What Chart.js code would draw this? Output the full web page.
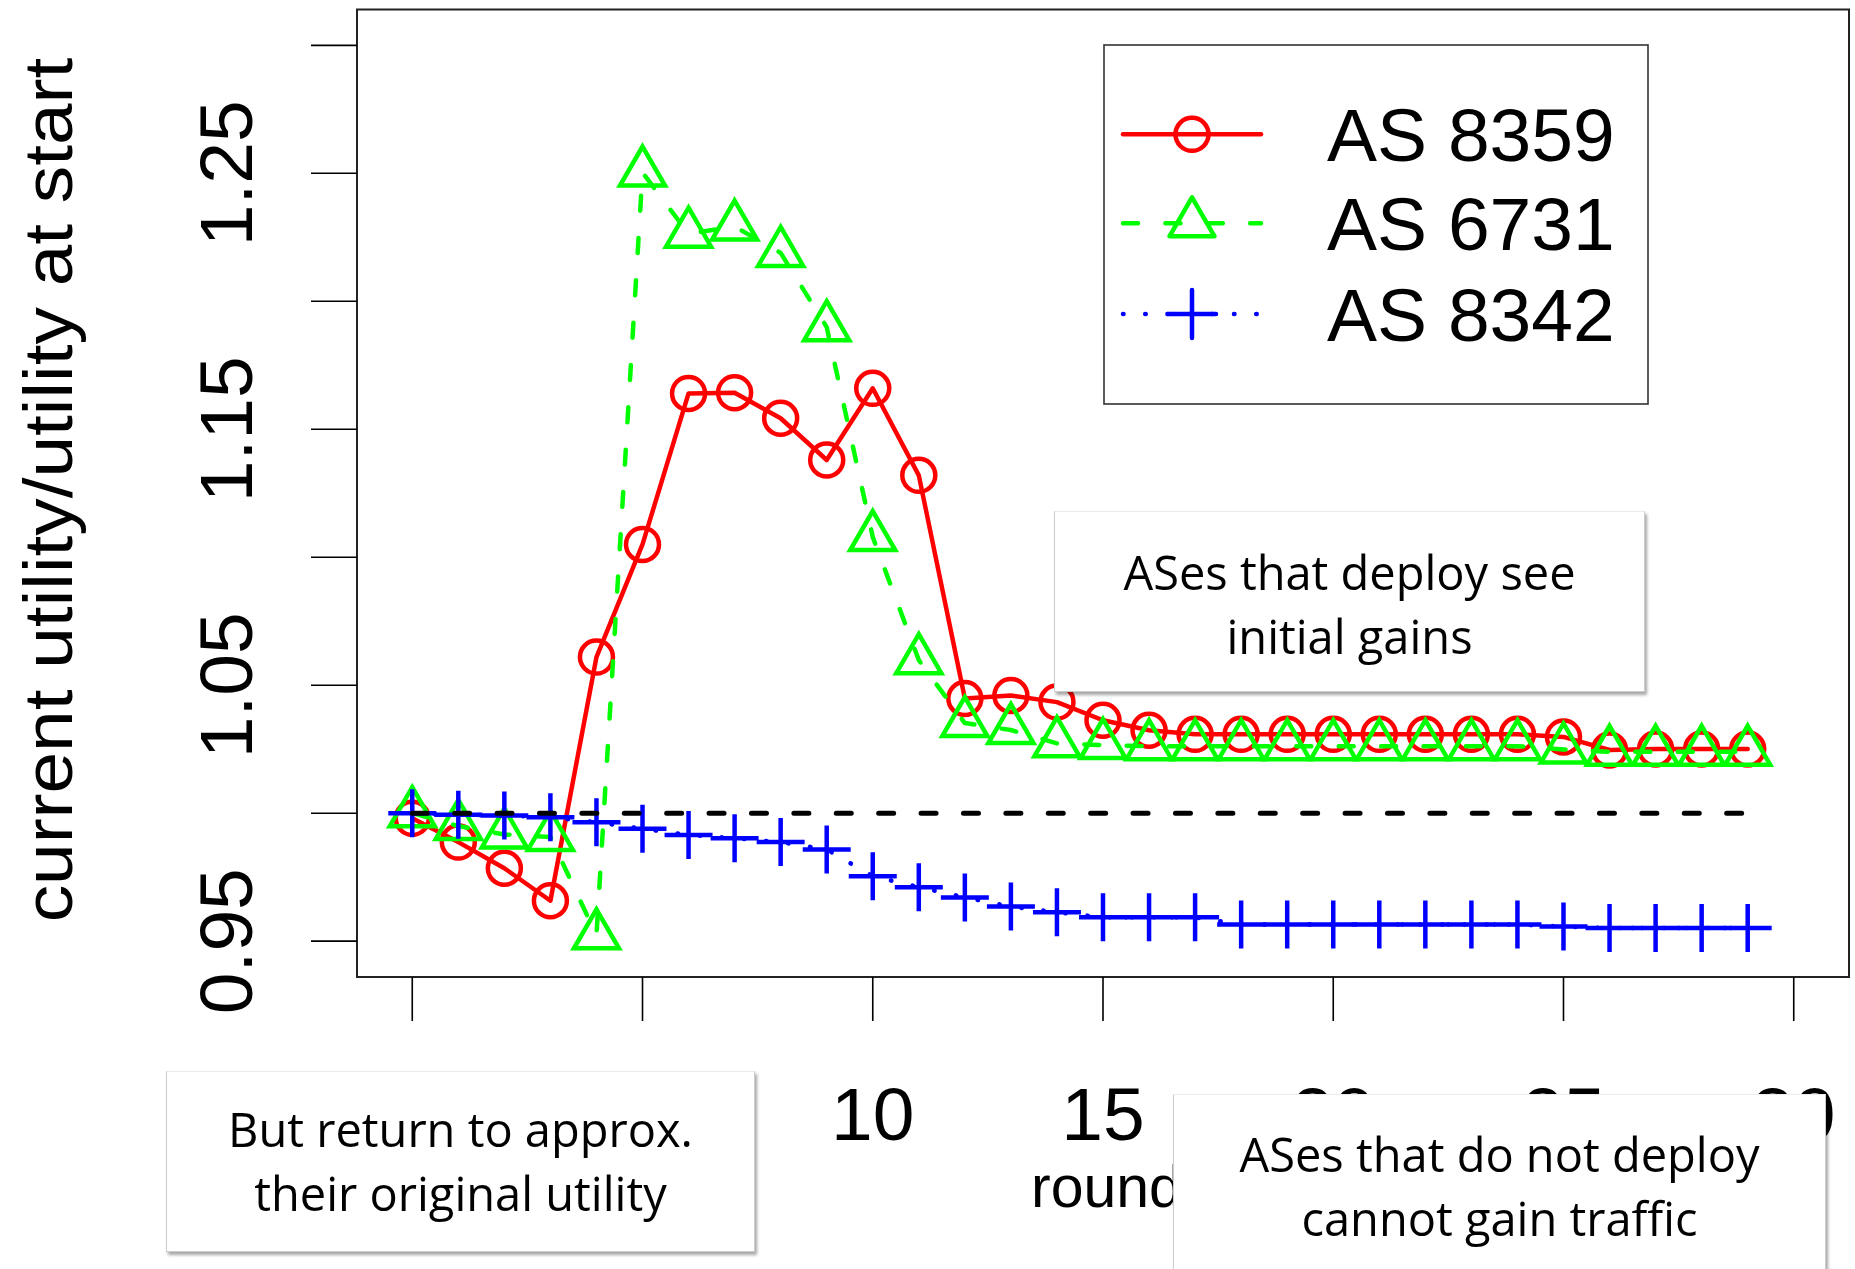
<!DOCTYPE html>
<html>
<head>
<meta charset="utf-8">
<script src="https://cdn.jsdelivr.net/npm/chart.js@4.4.1/dist/chart.umd.min.js"></script>
<style>
html, body { margin: 0; padding: 0; background: #fff; overflow: hidden; width: 1855px; height: 1269px; }
#wrap { position: relative; width: 1855px; height: 1269px; }
#c { position: absolute; left: 0; top: 0; }
.note {
  position: absolute; background: #fff; box-sizing: border-box;
  border: 1px solid #cccccc; border-top-color: #ececec;
  box-shadow: 2px 3px 3px rgba(0,0,0,0.35);
  font-family: "Open Sans", "Noto Sans", sans-serif; font-size: 47px; line-height: 64px;
  text-align: center; color: #000; white-space: nowrap;
}
</style>
</head>
<body>
<div id="wrap">
  <canvas id="c" width="1855" height="1269"></canvas>
  <div class="note" style="left:1054px; top:511px; width:591px; height:181px; padding-top:28px;">ASes that deploy see<br>initial gains</div>
  <div class="note" style="left:166px; top:1071px; width:589px; height:181px; padding-top:25px;">But return to approx.<br>their original utility</div>
  <div class="note" style="left:1173px; top:1094px; width:653px; height:220px; padding-top:27px;">ASes that do not deploy<br>cannot gain traffic</div>
</div>
<script>
// ---------------- data ----------------
const rounds = [0,1,2,3,4,5,6,7,8,9,10,11,12,13,14,15,16,17,18,19,20,21,22,23,24,25,26,27,28,29];
const as8359 = [0.998, 0.9887, 0.9785, 0.9658, 1.061, 1.105, 1.164, 1.1643, 1.1543, 1.138,
                1.166, 1.132, 1.0448, 1.046, 1.0434, 1.0363, 1.0324, 1.0308, 1.0308, 1.0308,
                1.0308, 1.0308, 1.0308, 1.0308, 1.0308, 1.0298, 1.0247, 1.0251, 1.0251, 1.0251];
const as6731 = [1.000, 0.995, 0.9917, 0.9907, 0.9523, 1.2503, 1.2264, 1.2292, 1.2189, 1.1899,
                1.1079, 1.0598, 1.0352, 1.0325, 1.0273, 1.0266, 1.0262, 1.0262, 1.0262, 1.0262,
                1.0262, 1.0262, 1.0262, 1.0262, 1.0262, 1.0249, 1.0240, 1.0240, 1.0240, 1.0240];
const as8342 = [1.000, 0.9994, 0.9991, 0.9984, 0.9965, 0.9939, 0.9915, 0.9902, 0.9887, 0.9858,
                0.9754, 0.9711, 0.9671, 0.9635, 0.9613, 0.9593, 0.9593, 0.9593, 0.9565, 0.9565,
                0.9565, 0.9565, 0.9565, 0.9565, 0.9565, 0.9557, 0.9551, 0.9551, 0.9551, 0.9551];
const refX = [0, 29];
const refY = [1, 1];
const seriesNames = ['AS 8359', 'AS 6731', 'AS 8342'];
const xTicks = [0, 5, 10, 15, 20, 25, 30];
const xTickLabels = ['0', '5', '10', '15', '20', '25', '30'];
const yTicks = [0.95, 1.00, 1.05, 1.10, 1.15, 1.20, 1.25, 1.30];
const yTickLabels = ['0.95', '', '1.05', '', '1.15', '', '1.25', ''];
const xTitle = 'round';
const yTitle = 'current utility/utility at start';

// ---------------- styles ----------------
const RED = '#ff0000', GREEN = '#00ff00', BLUE = '#0000ff';
const LW = 4.5;
const DASH = [15, 27.4];
const DOT = [0.5, 21.7];
const toPts = (xs, ys) => xs.map((v, i) => ({ x: v, y: ys[i] }));

const rAxes = {
  id: 'rAxes',
  afterDraw(chart) {
    const { ctx, chartArea: a, scales: { x, y } } = chart;
    ctx.save();
    // plot box
    ctx.strokeStyle = '#222'; ctx.lineWidth = 2;
    ctx.strokeRect(a.left, a.top, a.right - a.left, a.bottom - a.top);
    // ticks
    ctx.strokeStyle = '#000'; ctx.lineWidth = 1.6;
    ctx.beginPath();
    yTicks.forEach(v => { const py = y.getPixelForValue(v); ctx.moveTo(a.left - 46, py); ctx.lineTo(a.left, py); });
    xTicks.forEach(v => { const px = x.getPixelForValue(v); ctx.moveTo(px, a.bottom); ctx.lineTo(px, a.bottom + 44); });
    ctx.stroke();
    // tick labels
    ctx.fillStyle = '#000';
    ctx.font = '75px "Liberation Sans", Arial, sans-serif';
    ctx.textAlign = 'center'; ctx.textBaseline = 'alphabetic';
    xTicks.forEach((v, i) => { ctx.fillText(xTickLabels[i], x.getPixelForValue(v), 1140); });
    yTicks.forEach((v, i) => {
      if (!yTickLabels[i]) return;
      ctx.save(); ctx.translate(252, y.getPixelForValue(v)); ctx.rotate(-Math.PI / 2);
      ctx.fillText(yTickLabels[i], 0, 0); ctx.restore();
    });
    // axis titles
    ctx.save();
    ctx.translate(72, 490); ctx.rotate(-Math.PI / 2); ctx.scale(1.1, 1);
    ctx.font = '68px "Liberation Sans", Arial, sans-serif';
    ctx.fillText(yTitle, 0, 0);
    ctx.restore();
    ctx.font = '59px "Liberation Sans", Arial, sans-serif';
    ctx.textAlign = 'left';
    ctx.fillText(xTitle, 1031, 1207);

    // legend
    const L = { left: 1104, top: 45, right: 1648, bottom: 404 };
    ctx.fillStyle = '#fff';
    ctx.fillRect(L.left, L.top, L.right - L.left, L.bottom - L.top);
    ctx.strokeStyle = '#333'; ctx.lineWidth = 1.6;
    ctx.strokeRect(L.left, L.top, L.right - L.left, L.bottom - L.top);
    const rows = [134.3, 223.3, 314];
    const cols = [RED, GREEN, BLUE];
    const dashes = [[], DASH, DOT];
    ctx.lineCap = 'round'; ctx.lineJoin = 'round';
    rows.forEach((ry, i) => {
      ctx.strokeStyle = cols[i]; ctx.lineWidth = LW;
      ctx.setLineDash(dashes[i]);
      ctx.beginPath(); ctx.moveTo(1123, ry); ctx.lineTo(1261, ry); ctx.stroke();
      ctx.setLineDash([]);
      const mx = 1192;
      ctx.beginPath();
      if (i === 0) { ctx.arc(mx, ry, 16.5, 0, Math.PI * 2); }
      else if (i === 1) {
        const r = 26;
        ctx.moveTo(mx, ry - r);
        ctx.lineTo(mx + r * 0.866, ry + r / 2);
        ctx.lineTo(mx - r * 0.866, ry + r / 2);
        ctx.closePath();
      } else {
        const r = 24;
        ctx.moveTo(mx - r, ry); ctx.lineTo(mx + r, ry);
        ctx.moveTo(mx, ry - r); ctx.lineTo(mx, ry + r);
      }
      ctx.stroke();
      ctx.fillStyle = '#000';
      ctx.font = '75px "Liberation Sans", Arial, sans-serif';
      ctx.textAlign = 'left';
      ctx.fillText(seriesNames[i], 1327, ry + 27);
    });
    ctx.restore();
  }
};

new Chart(document.getElementById('c'), {
  type: 'line',
  data: {
    datasets: [
      { label: seriesNames[0], data: toPts(rounds, as8359), borderColor: RED, borderWidth: LW,
        pointStyle: 'circle', pointRadius: 16.5, pointBorderWidth: LW, pointBorderColor: RED,
        pointBackgroundColor: 'rgba(0,0,0,0)', borderJoinStyle: 'round', borderCapStyle: 'round', order: 4 },
      { label: seriesNames[1], data: toPts(rounds, as6731), borderColor: GREEN, borderWidth: LW, borderDash: DASH,
        pointStyle: 'triangle', pointRadius: 26, pointBorderWidth: LW, pointBorderColor: GREEN,
        pointBackgroundColor: 'rgba(0,0,0,0)', borderJoinStyle: 'round', borderCapStyle: 'round', order: 3 },
      { label: seriesNames[2], data: toPts(rounds, as8342), borderColor: BLUE, borderWidth: LW, borderDash: DOT,
        pointStyle: 'cross', pointRadius: 24, pointBorderWidth: LW, pointBorderColor: BLUE,
        pointBackgroundColor: 'rgba(0,0,0,0)', borderJoinStyle: 'round', borderCapStyle: 'round', order: 2 },
      { label: 'reference', data: toPts(refX, refY), borderColor: '#000', borderWidth: 5, borderDash: DASH,
        pointRadius: 0, borderCapStyle: 'round', order: 1 }
    ]
  },
  options: {
    responsive: false, animation: false, devicePixelRatio: 1,
    layout: { autoPadding: false, padding: { left: 357, right: 6, top: 9.5, bottom: 292 } },
    elements: { line: { tension: 0, fill: false } },
    scales: {
      x: { type: 'linear', min: -1.2, max: 31.2, display: false },
      y: { type: 'linear', min: 0.936, max: 1.314, display: false }
    },
    plugins: { legend: { display: false }, tooltip: { enabled: false } }
  },
  plugins: [rAxes]
});
</script>
</body>
</html>
